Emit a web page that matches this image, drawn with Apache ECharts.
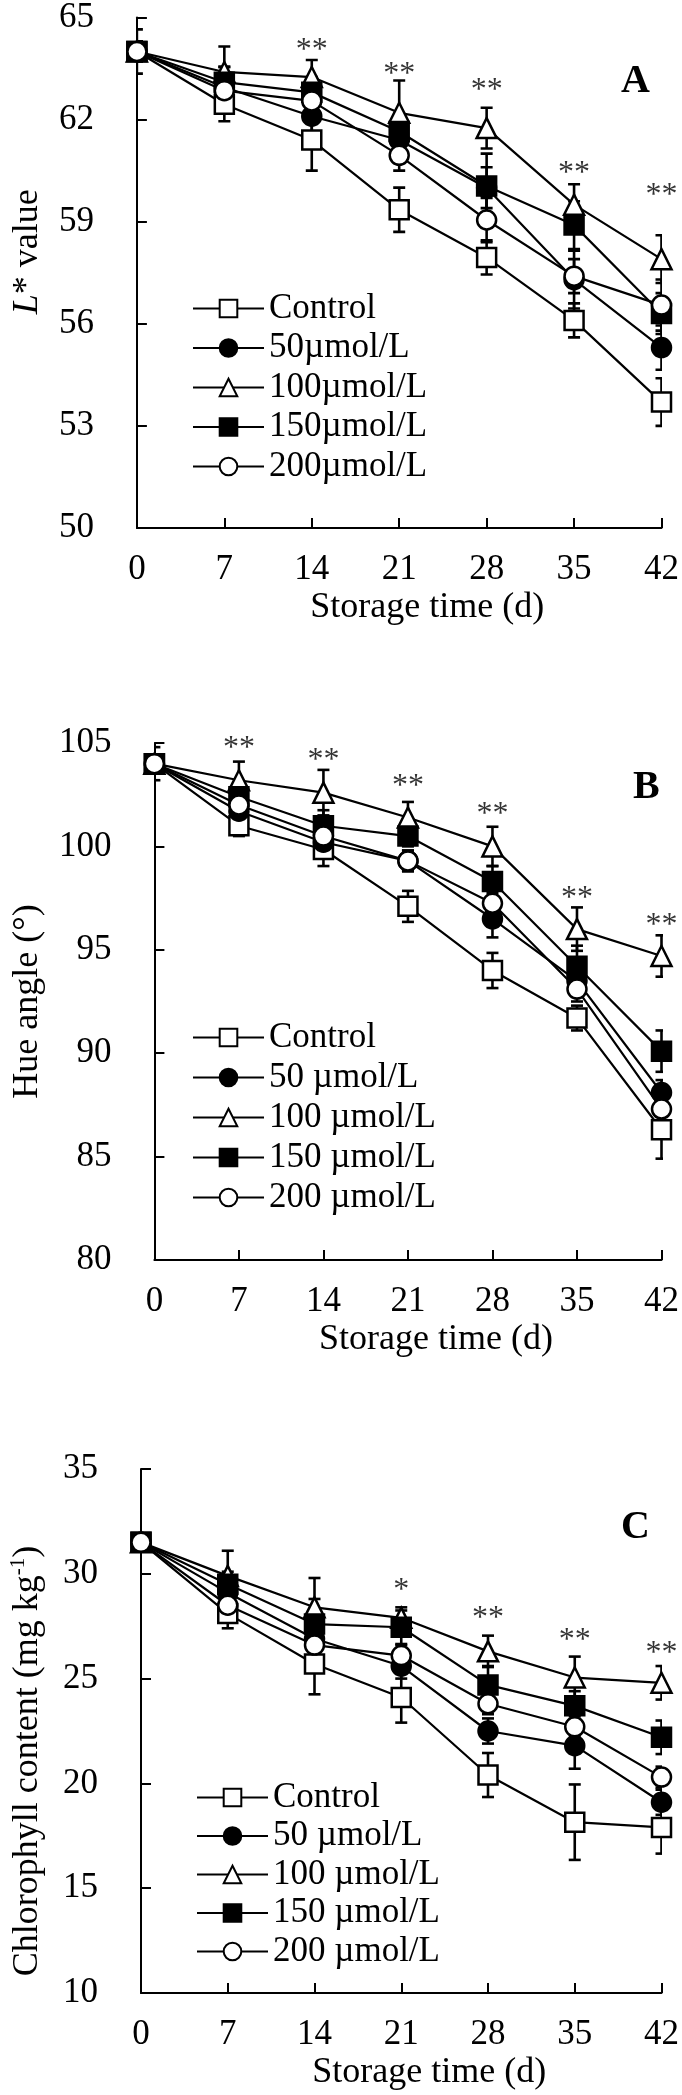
<!DOCTYPE html>
<html><head><meta charset="utf-8">
<script src="https://cdn.jsdelivr.net/npm/echarts@6/dist/echarts.min.js"></script>
<style>html,body{margin:0;padding:0;background:#fff}#c{width:682px;height:2095px}</style>
</head><body><div id="c"></div>
<script>
// ---------- data ----------
const days = [0, 7, 14, 21, 28, 35, 42];
const xTicks = [0, 7, 14, 21, 28, 35, 42];
const namesA = ['Control', '50µmol/L', '100µmol/L', '150µmol/L', '200µmol/L'];
const namesBC = ['Control', '50 µmol/L', '100 µmol/L', '150 µmol/L', '200 µmol/L'];

// Panel A: L* value
const yTicksA = [50, 53, 56, 59, 62, 65];
const ctrlA = [64.0, 62.45, 61.4, 59.35, 57.95, 56.1, 53.7];
const ctrlAErr = [0.65, 0.5, 0.9, 0.65, 0.5, 0.5, 0.7];
const c50A = [64.0, 62.95, 62.1, 61.4, 60.0, 57.3, 55.3];
const c50AErr = [0.3, 0.6, 0.45, 0.4, 0.6, 0.85, 0.65];
const c100A = [64.0, 63.4, 63.25, 62.2, 61.75, 59.5, 57.9];
const c100AErr = [0.3, 0.75, 0.5, 0.95, 0.6, 0.6, 0.7];
const c150A = [64.0, 63.1, 62.8, 61.65, 60.05, 58.9, 56.3];
const c150AErr = [0.3, 0.45, 0.45, 0.5, 0.95, 0.7, 0.6];
const c200A = [64.0, 62.85, 62.55, 60.95, 59.05, 57.4, 56.55];
const c200AErr = [0.3, 0.4, 0.4, 0.45, 0.65, 0.5, 0.75];
const sigDaysA = [14, 21, 28, 35, 42];
const sigYA = [64.19, 63.51, 63.03, 60.6, 59.93];
const sigTextA = ['**', '**', '**', '**', '**'];

// Panel B: Hue angle
const yTicksB = [80, 85, 90, 95, 100, 105];
const ctrlB = [104.0, 101.0, 99.85, 97.1, 94.0, 91.7, 86.3];
const ctrlBErr = [0.8, 0.5, 0.8, 0.75, 0.85, 0.6, 1.4];
const c50B = [104.0, 101.7, 100.2, 99.3, 96.5, 93.5, 88.1];
const c50BErr = [0.3, 0.5, 0.5, 0.5, 0.9, 0.7, 0.6];
const c100B = [104.0, 103.2, 102.6, 101.4, 100.0, 96.0, 94.7];
const c100BErr = [0.3, 0.9, 1.1, 0.75, 0.95, 1.05, 1.0];
const c150B = [104.0, 102.4, 101.0, 100.5, 98.3, 94.2, 90.1];
const c150BErr = [0.3, 0.5, 0.75, 0.5, 0.75, 1.0, 1.0];
const c200B = [104.0, 102.0, 100.5, 99.3, 97.25, 93.1, 87.3];
const c200BErr = [0.3, 0.5, 0.5, 0.5, 0.5, 0.6, 0.6];
const sigDaysB = [7, 14, 21, 28, 35, 42];
const sigYB = [105.0, 104.43, 103.2, 101.85, 97.75, 96.45];
const sigTextB = ['**', '**', '**', '**', '**', '**'];

// Panel C: Chlorophyll content
const yTicksC = [10, 15, 20, 25, 30, 35];
const ctrlC = [31.5, 28.1, 25.7, 24.1, 20.4, 18.15, 17.9];
const ctrlCErr = [0.4, 0.7, 1.45, 1.2, 1.05, 1.8, 1.25];
const c50C = [31.5, 29.1, 26.9, 25.6, 22.5, 21.8, 19.1];
const c50CErr = [0.3, 0.6, 0.5, 0.6, 0.6, 1.1, 0.6];
const c100C = [31.5, 29.9, 28.4, 27.9, 26.3, 25.05, 24.8];
const c100CErr = [0.3, 1.2, 1.4, 0.5, 0.75, 1.0, 0.8];
const c150C = [31.5, 29.5, 27.6, 27.45, 24.7, 23.7, 22.2];
const c150CErr = [0.3, 0.6, 1.2, 0.8, 0.9, 0.7, 0.8];
const c200C = [31.5, 28.5, 26.6, 26.1, 23.8, 22.7, 20.3];
const c200CErr = [0.3, 0.5, 0.5, 0.5, 0.5, 0.5, 0.5];
const sigDaysC = [21, 28, 35, 42];
const sigYC = [29.47, 28.13, 27.1, 26.5];
const sigTextC = ['*', '**', '**', '**'];

// ---------- styling ----------
const FONT = '"Liberation Serif", "Times New Roman", serif';
const symbols = ['rect', 'circle', 'triangle', 'rect', 'circle'];
const filled = [false, true, false, true, false];

const panels = [
  { names: namesA, vals: [ctrlA, c50A, c100A, c150A, c200A], errs: [ctrlAErr, c50AErr, c100AErr, c150AErr, c200AErr],
    sigX: sigDaysA, sigY: sigYA, sigT: sigTextA, ticks: yTicksA },
  { names: namesBC, vals: [ctrlB, c50B, c100B, c150B, c200B], errs: [ctrlBErr, c50BErr, c100BErr, c150BErr, c200BErr],
    sigX: sigDaysB, sigY: sigYB, sigT: sigTextB, ticks: yTicksB },
  { names: namesBC, vals: [ctrlC, c50C, c100C, c150C, c200C], errs: [ctrlCErr, c50CErr, c100CErr, c150CErr, c200CErr],
    sigX: sigDaysC, sigY: sigYC, sigT: sigTextC, ticks: yTicksC }
];

function errRender(params, api) {
  const x = api.value(0), lo = api.value(1), hi = api.value(2);
  const a = api.coord([x, lo]), b = api.coord([x, hi]);
  const w = 6;
  const st = { stroke: '#000', lineWidth: 2.6, fill: null };
  return { type: 'group', children: [
    { type: 'line', shape: { x1: a[0], y1: a[1], x2: b[0], y2: b[1] }, style: st },
    { type: 'line', shape: { x1: a[0] - w, y1: a[1], x2: a[0] + w, y2: a[1] }, style: st },
    { type: 'line', shape: { x1: b[0] - w, y1: b[1], x2: b[0] + w, y2: b[1] }, style: st }
  ]};
}

const grids = [
  { left: 130, width: 535, top: 14, height: 514 },
  { left: 130, width: 535, top: 743, height: 517 },
  { left: 134, width: 531, top: 1469, height: 524 }
];

const axisCommon = {
  axisLine: { show: true, onZero: false, lineStyle: { color: '#000', width: 2 } },
  axisTick: { show: true, inside: true, length: 10, lineStyle: { color: '#000', width: 2 } },
  splitLine: { show: false },
  axisLabel: { color: '#000', fontFamily: FONT, fontSize: 35 }
};

const xAxes = grids.map((g, i) => ({
  type: 'value', gridIndex: i, min: 0, max: 42,
  ...axisCommon,
  axisTick: { ...axisCommon.axisTick, customValues: xTicks },
  axisLabel: { ...axisCommon.axisLabel, margin: 24, customValues: xTicks },
  name: 'Storage time (d)', nameLocation: 'middle', nameGap: 62,
  nameTextStyle: { color: '#000', fontFamily: FONT, fontSize: 36, padding: [0, 0, 0, 56] }
}));

const yNames = ['{i|L}* value', 'Hue angle (°)', 'Chlorophyll content (mg kg{sup|-1})'];
const yGaps = [80, 80, 93];
const yPads = [[0, 0, 0, 42], [0, 0, 0, 0], [0, 60, 0, 0]];
const yAxes = grids.map((g, i) => ({
  type: 'value', gridIndex: i,
  min: panels[i].ticks[0], max: panels[i].ticks[panels[i].ticks.length - 1],
  ...axisCommon,
  axisTick: { ...axisCommon.axisTick, customValues: panels[i].ticks },
  axisLabel: { ...axisCommon.axisLabel, margin: 43, customValues: panels[i].ticks },
  name: yNames[i], nameLocation: 'middle', nameGap: yGaps[i],
  nameTextStyle: {
    color: '#000', fontFamily: FONT, fontSize: 36, lineHeight: 40, padding: yPads[i],
    rich: {
      i: { fontStyle: 'italic', fontFamily: FONT, fontSize: 36, color: '#000', lineHeight: 40 },
      sup: { fontFamily: FONT, fontSize: 21, color: '#000', lineHeight: 21, verticalAlign: 'top' }
    }
  }
}));

const series = [];
panels.forEach((p, pi) => {
  p.vals.forEach((v, si) => {
    series.push({
      type: 'custom', name: p.names[si] + ' err', xAxisIndex: pi, yAxisIndex: pi,
      renderItem: errRender, clip: true, silent: true, z: 1,
      encode: { x: 0, y: [1, 2] },
      data: days.map((d, k) => [d, v[k] - p.errs[si][k], v[k] + p.errs[si][k]])
    });
  });
  p.vals.forEach((v, si) => {
    series.push({
      type: 'line', name: p.names[si], xAxisIndex: pi, yAxisIndex: pi, z: 3,
      symbol: symbols[si], symbolSize: symbols[si] === 'triangle' ? 20 : 19,
      showAllSymbol: true, clip: false,
      lineStyle: { color: '#000', width: 2.2 },
      itemStyle: { color: filled[si] ? '#000' : '#fff', borderColor: '#000', borderWidth: 2.5, opacity: 1 },
      emphasis: { disabled: true },
      data: days.map((d, k) => [d, v[k]])
    });
  });
  series.push({
    type: 'scatter', name: 'sig' + pi, xAxisIndex: pi, yAxisIndex: pi, z: 5,
    symbolSize: 0, silent: true, clip: false,
    label: { show: true, position: 'inside', offset: [0, 6], formatter: q => q.value[2],
      fontFamily: FONT, fontSize: 32, color: '#000' },
    data: p.sigX.map((d, k) => [d, p.sigY[k], p.sigT[k]])
  });
});

const legendBase = {
  orient: 'vertical', itemWidth: 71, itemHeight: 22, selectedMode: false,
  textStyle: { fontFamily: FONT, fontSize: 35, lineHeight: 34, color: '#000' }
};

const option = {
  animation: false,
  backgroundColor: '#fff',
  grid: grids,
  xAxis: xAxes,
  yAxis: yAxes,
  title: [
    { text: 'A', left: 621, top: 62, padding: 0, textStyle: { fontFamily: FONT, fontSize: 40, fontWeight: 'bold', color: '#000' } },
    { text: 'B', left: 633, top: 768, padding: 0, textStyle: { fontFamily: FONT, fontSize: 40, fontWeight: 'bold', color: '#000' } },
    { text: 'C', left: 621, top: 1508, padding: 0, textStyle: { fontFamily: FONT, fontSize: 40, fontWeight: 'bold', color: '#000' } }
  ],
  legend: [
    { ...legendBase, data: namesA, left: 187, top: 286, itemGap: 4.5 },
    { ...legendBase, data: namesBC, left: 187, top: 1015, itemGap: 5 },
    { ...legendBase, data: namesBC, left: 191, top: 1775, itemGap: 3.5 }
  ],
  series
};

const chart = echarts.init(document.getElementById('c'), null, { renderer: 'canvas' });
chart.setOption(option);
</script>
</body></html>
